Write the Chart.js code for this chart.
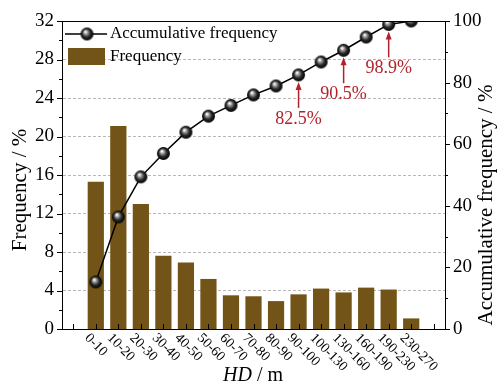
<!DOCTYPE html>
<html>
<head>
<meta charset="utf-8">
<script src="https://cdn.jsdelivr.net/npm/chart.js@4.4.1/dist/chart.umd.min.js"></script>
<style>
  html, body { margin: 0; padding: 0; background: #fff; }
  #c { display: block; }
</style>
</head>
<body>
<canvas id="c" width="499" height="388"></canvas>
<script>
/* 수평거리(HD) 구간별 빈도 + 누적빈도 */
const bins = ["0-10", "10-20", "20-30", "30-40", "40-50", "50-60", "60-70", "70-80",
              "80-90", "90-100", "100-130", "130-160", "160-190", "190-230", "230-270"];
const frequency = [15.3, 21.1, 13.0, 7.6, 6.9, 5.2, 3.5, 3.4, 2.9, 3.6, 4.2, 3.8, 4.3, 4.1, 1.1];
const cumulative = [15.3, 36.4, 49.4, 57.0, 63.9, 69.1, 72.6, 76.0, 78.9, 82.5, 86.7, 90.5, 94.8, 98.9, 100];
const marked = ["90-100", "130-160", "190-230"];   // 화살표 표시 구간
const leftTicks = [0, 4, 8, 12, 16, 20, 24, 28, 32];
const rightTicks = [0, 20, 40, 60, 80, 100];

const BROWN = "#735418";
const RED = "#b2222c";
const SERIF = "'Liberation Serif', 'Times New Roman', serif";

// 양 끝에 빈 칸 하나씩
const labels = ["", ...bins, ""];
const pad = (arr) => [null, ...arr, null];

// 구슬 모양 점
function sphere(r) {
  const c = document.createElement("canvas");
  const s = r * 2 + 2;
  c.width = s; c.height = s;
  const g = c.getContext("2d");
  const cx = s / 2, cy = s / 2;
  const grad = g.createRadialGradient(cx - r * 0.25, cy - r * 0.35, 0.5, cx, cy, r);
  grad.addColorStop(0, "#ffffff");
  grad.addColorStop(0.25, "#9a9a9a");
  grad.addColorStop(0.6, "#2a2a2a");
  grad.addColorStop(1, "#000000");
  g.fillStyle = grad;
  g.beginPath(); g.arc(cx, cy, r, 0, Math.PI * 2); g.fill();
  return c;
}
const ball = sphere(6.5);

const extras = {
  id: "extras",
  afterDraw(chart) {
    const ctx = chart.ctx, a = chart.chartArea;
    const x = chart.scales.x, y = chart.scales.y, y1 = chart.scales.y1;
    ctx.save();
    ctx.strokeStyle = "#000"; ctx.lineWidth = 1;
    // 위쪽 테두리
    ctx.beginPath(); ctx.moveTo(a.left, a.top + 0.5); ctx.lineTo(a.right, a.top + 0.5); ctx.stroke();
    // 눈금
    ctx.beginPath();
    labels.forEach((_, i) => {
      const px = Math.round(x.getPixelForValue(i)) + 0.5;
      ctx.moveTo(px, a.bottom); ctx.lineTo(px, a.bottom - 5);
    });
    for (let v = 0; v <= 32; v += 2) {
      const py = Math.round(y.getPixelForValue(v)) + 0.5;
      ctx.moveTo(a.left, py); ctx.lineTo(a.left - (v % 4 === 0 ? 5 : 3), py);
    }
    for (let v = 0; v <= 100; v += 10) {
      const py = Math.round(y1.getPixelForValue(v)) + 0.5;
      ctx.moveTo(a.right, py); ctx.lineTo(a.right + (v % 20 === 0 ? 5 : 3), py);
    }
    ctx.stroke();

    // x 라벨 (45도)
    ctx.fillStyle = "#000";
    ctx.font = "14px " + SERIF;
    ctx.textAlign = "left"; ctx.textBaseline = "middle";
    labels.forEach((t, i) => {
      if (!t) return;
      const px = x.getPixelForValue(i);
      ctx.save();
      ctx.translate(px - 9, a.bottom + 7);
      ctx.rotate(Math.PI / 4);
      ctx.fillText(t, 0, 0);
      ctx.restore();
    });

    // 축 제목
    ctx.font = "21px " + SERIF;
    ctx.textAlign = "center"; ctx.textBaseline = "middle";
    ctx.save(); ctx.translate(20, 190); ctx.rotate(-Math.PI / 2); ctx.fillText("Frequency / %", 0, 0); ctx.restore();
    ctx.save(); ctx.translate(486, 205); ctx.rotate(-Math.PI / 2); ctx.fillText("Accumulative frequency / %", 0, 0); ctx.restore();
    // HD / m (HD 이탤릭)
    const t1 = "HD", t2 = " / m";
    ctx.font = "italic 20px " + SERIF;
    const w1 = ctx.measureText(t1).width;
    ctx.font = "20px " + SERIF;
    const w2 = ctx.measureText(t2).width;
    const sx = 253 - (w1 + w2) / 2;
    ctx.textAlign = "left";
    ctx.font = "italic 20px " + SERIF; ctx.fillText(t1, sx, 376);
    ctx.font = "20px " + SERIF; ctx.fillText(t2, sx + w1, 376);

    // 범례
    ctx.lineWidth = 1.5;
    ctx.beginPath(); ctx.moveTo(65, 34); ctx.lineTo(107, 34); ctx.stroke();
    ctx.drawImage(ball, 87 - ball.width / 2, 34 - ball.height / 2);
    ctx.fillStyle = BROWN; ctx.fillRect(68, 48, 37, 17);
    ctx.fillStyle = "#000"; ctx.font = "17px " + SERIF; ctx.textBaseline = "middle";
    ctx.fillText(chart.data.datasets[0].label, 110, 34);
    ctx.fillText(chart.data.datasets[1].label, 110, 57);

    // 화살표 + 퍼센트
    ctx.strokeStyle = RED; ctx.fillStyle = RED; ctx.lineWidth = 1.5;
    ctx.font = "18px " + SERIF; ctx.textAlign = "center"; ctx.textBaseline = "top";
    marked.forEach((b) => {
      const k = bins.indexOf(b);
      const px = x.getPixelForValue(k + 1);
      const py = y1.getPixelForValue(cumulative[k]);
      const tip = py + 7, tail = py + 33;
      ctx.beginPath(); ctx.moveTo(px, tail); ctx.lineTo(px, tip + 6); ctx.stroke();
      ctx.beginPath(); ctx.moveTo(px, tip); ctx.lineTo(px - 3, tip + 8); ctx.lineTo(px + 3, tip + 8); ctx.closePath(); ctx.fill();
      ctx.fillText(cumulative[k].toFixed(1) + "%", px, tail + 2);
    });
    ctx.restore();
  }
};

new Chart(document.getElementById("c"), {
  data: {
    labels,
    datasets: [
      { type: "line", label: "Accumulative frequency", data: pad(cumulative), yAxisID: "y1",
        borderColor: "#000", borderWidth: 1.5, pointStyle: ball, pointRadius: 6.5, order: 0, spanGaps: false },
      { type: "bar", label: "Frequency", data: pad(frequency), yAxisID: "y",
        backgroundColor: BROWN, barPercentage: 0.72, categoryPercentage: 1, order: 1 },
    ],
  },
  options: {
    responsive: false, animation: false,
    layout: { padding: { top: 21, left: 0, right: 0, bottom: 0 } },
    plugins: { legend: { display: false }, tooltip: { enabled: false } },
    scales: {
      x: {
        type: "category", offset: true,
        grid: { display: false, drawTicks: false },
        border: { color: "#000", width: 1 },
        ticks: { display: false },
        afterFit: (s) => { s.height = 59; },
      },
      y: {
        position: "left", min: 0, max: 32,
        afterBuildTicks: (s) => { s.ticks = []; for (let v = 0; v <= 32; v += 2) s.ticks.push({ value: v }); },
        ticks: { color: "#000", font: { family: SERIF, size: 19 }, padding: 8,
                 callback: (v) => (leftTicks.includes(v) ? v : "") },
        grid: { drawTicks: false,
                color: (c) => (c.tick && c.tick.value % 4 === 0 ? "#b8b8b8" : "#e2e2e2"),
                lineWidth: (c) => (c.tick && (c.tick.value === 0 || c.tick.value === 32) ? 0 : 1) },
        border: { color: "#000", width: 1, dash: [3, 2] },
        afterFit: (s) => { s.width = 62; },
      },
      y1: {
        position: "right", min: 0, max: 100,
        afterBuildTicks: (s) => { s.ticks = rightTicks.map((v) => ({ value: v })); },
        ticks: { color: "#000", font: { family: SERIF, size: 19 }, padding: 8 },
        grid: { display: false, drawTicks: false },
        border: { color: "#000", width: 1 },
        afterFit: (s) => { s.width = 54; },
      },
    },
  },
  plugins: [extras],
});
</script>
</body>
</html>
